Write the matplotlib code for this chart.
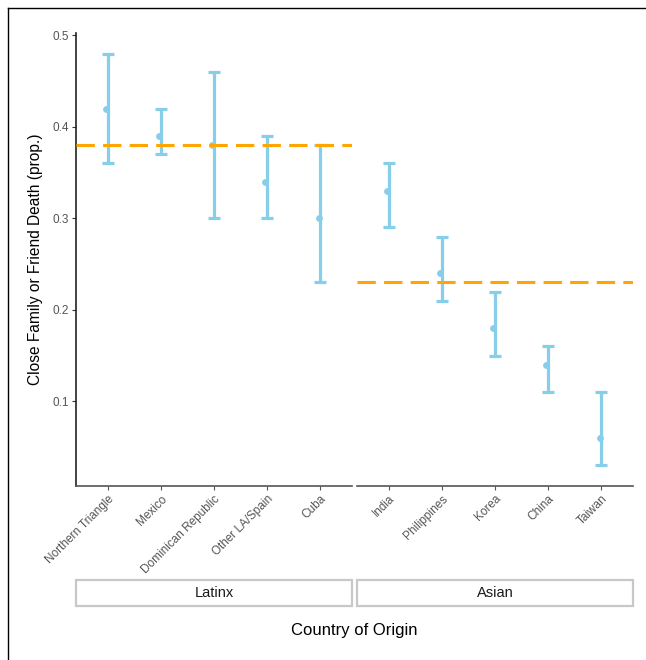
import matplotlib.pyplot as plt
from matplotlib.patches import Rectangle
from matplotlib.lines import Line2D

plt.rcParams['font.family'] = ['Liberation Sans', 'DejaVu Sans']

# data
latinx = ['Northern Triangle', 'Mexico', 'Dominican Republic', 'Other LA/Spain', 'Cuba']
latinx_est = [0.42, 0.39, 0.38, 0.34, 0.30]
latinx_lo = [0.36, 0.37, 0.30, 0.30, 0.23]
latinx_hi = [0.48, 0.42, 0.46, 0.39, 0.38]
latinx_mean = 0.38

asian = ['India', 'Philippines', 'Korea', 'China', 'Taiwan']
asian_est = [0.33, 0.24, 0.18, 0.14, 0.06]
asian_lo = [0.29, 0.21, 0.15, 0.11, 0.03]
asian_hi = [0.36, 0.28, 0.22, 0.16, 0.11]
asian_mean = 0.23

W, H = 646, 660
fig = plt.figure(figsize=(W / 100, H / 100), dpi=100)

def px_axes(x0, y0, x1, y1):
    return fig.add_axes([x0 / W, 1 - y1 / H, (x1 - x0) / W, (y1 - y0) / H])

panels = [
    (px_axes(76, 33, 352, 486), latinx, latinx_est, latinx_lo, latinx_hi, latinx_mean, 'Latinx', True),
    (px_axes(357, 33, 633, 486), asian, asian_est, asian_lo, asian_hi, asian_mean, 'Asian', False),
]

blue = '#87CEEB'
for ax, cats, est, lo, hi, mean, title, first in panels:
    x = list(range(1, len(cats) + 1))
    err = [[e - l for e, l in zip(est, lo)], [h - e for e, h in zip(est, hi)]]
    ax.errorbar(x, est, yerr=err, fmt='none', ecolor=blue, elinewidth=2.3,
                capsize=4, capthick=2.3, zorder=2)
    ax.scatter([v - 0.03 for v in x], est, s=24, color=blue, zorder=3, linewidths=0)
    ax.axhline(mean, color='#FFA500', lw=2.2, dashes=(6, 2.7), zorder=4)
    ax.set_xlim(0.4, 5.6)
    ax.set_ylim(0.0075, 0.5025)
    ax.set_xticks(x)
    ax.set_xticklabels(cats, rotation=45, ha='right', rotation_mode='anchor',
                       fontsize=8.5, color='#555555')
    ax.tick_params(axis='x', length=3, color='#555555', pad=2)
    for s in ['top', 'right']:
        ax.spines[s].set_visible(False)
    ax.spines['bottom'].set_color('#555555')
    ax.spines['bottom'].set_linewidth(1.2)
    if first:
        ax.set_yticks([0.1, 0.2, 0.3, 0.4, 0.5])
        ax.set_yticklabels(['0.1', '0.2', '0.3', '0.4', '0.5'], fontsize=8.5, color='#555555')
        ax.tick_params(axis='y', length=3, color='#333333', pad=2)
        ax.spines['left'].set_color('#222222')
        ax.spines['left'].set_linewidth(1.2)
        ax.set_ylabel('Close Family or Friend Death (prop.)', fontsize=11.2, color='black', labelpad=7)
    else:
        ax.spines['left'].set_visible(False)
        ax.set_yticks([])

    # strip below
    bb = ax.get_position()
    sy0 = 1 - 606 / H
    sh = 26 / H
    fig.patches.append(Rectangle((bb.x0, sy0), bb.width, sh, transform=fig.transFigure,
                                 facecolor='white', edgecolor='#C8C8C8', lw=1.6))
    fig.text(bb.x0 + bb.width / 2, sy0 + sh / 2, title, ha='center', va='center',
             fontsize=10.5, color='#1A1A1A')

fig.text((76 + 633) / 2 / W, 1 - 631 / H, 'Country of Origin', ha='center', va='center',
         fontsize=12, color='black')

# outer border (top and left)
fig.lines.append(Line2D([8 / W, 8 / W], [0, 1 - 8 / H], transform=fig.transFigure, color='black', lw=1))
fig.lines.append(Line2D([8 / W, 1], [1 - 8 / H, 1 - 8 / H], transform=fig.transFigure, color='black', lw=1))

fig.savefig('out.png', dpi=100)
